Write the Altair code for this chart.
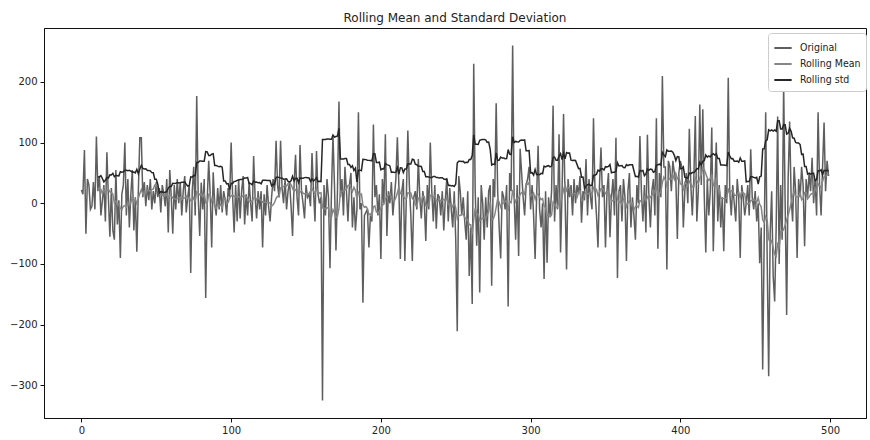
import altair as alt
import pandas as pd

# Original series (index 0..499)
orig = [
    22, 15, 88, -50, 40, 30, -10, -5, 35, -10,
    110, 20, 45, -20, 5, 30, -30, 84, 10, -55,
    25, -45, -60, 55, -35, 5, -90, 15, 30, 100,
    -20, 40, -40, 15, 55, -45, 10, -80, 20, 108,
    108, 10, 35, -5, 30, 5, 40, -10, 20, 0,
    35, 10, 25, -15, 30, 15, -5, 40, -48, 55,
    10, -50, 30, -10, 40, 0, 35, -20, 20, 45,
    -15, 10, 30, -115, 20, 60, -20, 177, 10, -54,
    34, -10, 40, -156, 5, 70, 15, -73, 51, 0,
    -20, 25, -10, 30, -15, 20, 5, -20, 25, 10,
    100, 10, -48, 30, -30, 40, -25, 20, 45, -35,
    15, -20, 35, 0, -30, 78, 10, -25, 20, -10,
    20, -73, 15, -20, 30, -5, -30, 10, 40, 20,
    103, 30, 10, 103, 25, 0, 40, -10, 20, 35,
    -5, -54, 30, 80, 10, -20, 96, 20, 0, -25,
    30, 10, 15, -5, 83, 20, -30, 86, 15, 0,
    10, -325, 30, -20, 40, 10, -107, 20, 112, 30,
    -78, 20, 168, 10, 40, -20, 60, 20, -30, 30,
    50, -40, 10, -45, -10, 150, -10, 0, -164, -20,
    -15, -10, -73, -20, -30, 130, 10, 30, -20, 15,
    -92, 40, 0, 114, -54, 20, 0, 35, -20, 10,
    40, 109, 30, -92, 20, 40, -95, 10, 120, 30,
    -20, -95, 10, 20, -10, 73, 10, -25, 20, 0,
    -62, 30, -10, 100, 20, -30, 30, -42, 15, 10,
    -20, 20, -45, 5, 40, -30, 25, -10, -40, 20,
    -60, -211, 45, 20, -20, 10, -30, -60, 20, -120,
    -40, -166, 230, 20, -70, 10, -147, 30, 0, -60,
    10, -40, 20, 30, -136, 40, 10, 165, 20, -40,
    -91, 20, 10, -10, 30, -170, 50, 20, 260, 10,
    -60, 30, -87, 90, 50, 10, -20, 30, 40, 60,
    -10, 30, -20, -92, 10, 95, -10, -40, 0, -125,
    20, -98, 10, -20, 20, 161, -30, 30, -10, 114,
    -81, 20, 147, 10, -109, 40, 10, 30, -20, 40,
    0, 30, 15, 45, -32, 20, 5, 73, -20, 40,
    10, -10, 140, 20, -20, -73, 30, 92, 10, 30,
    -73, 20, 50, -56, 10, 40, -20, 108, -123, 20,
    30, -30, 40, 10, -95, 20, 50, -40, 10, -20,
    -60, 30, 0, 111, 20, -30, 30, -48, 113, 10,
    -40, 20, 40, -20, 140, -75, 50, 10, 210, 60,
    60, -109, 70, 60, 20, 70, 50, 40, -59, 50,
    70, 60, -40, 20, 50, 0, 123, 30, -20, 40,
    144, -30, 20, 163, 30, 155, 10, -81, 40, -20,
    20, 125, -79, 20, 100, -30, 30, -40, 10, -79,
    30, 0, 207, 20, -20, 30, 0, -30, 40, 10,
    -90, 30, 10, -20, 0, 30, -20, 89, 10, -10,
    20, -30, 0, -99, -40, -274, -60, 150, -90, -285,
    -50, 20, -120, -162, -40, 143, -100, 30, -60, 196,
    0, -184, 40, 135, 10, -30, 60, 20, -90, 40,
    10, 60, 30, -71, 40, 10, 50, 20, 75, 0,
    40, -20, 150, 30, -20, 60, 133, 20, 70, 45,
]

series_names = ["Original", "Rolling Mean", "Rolling std"]
series_colors = ["#5e5e5e", "#858585", "#262626"]
x_ticks = [0, 100, 200, 300, 400, 500]
y_ticks = [-300, -200, -100, 0, 100, 200]
window = 12

df = pd.DataFrame({"idx": list(range(len(orig))), "value": orig})

color_scale = alt.Scale(domain=series_names, range=series_colors)
legend = alt.Legend(
    title=None, orient="none", legendX=724, legendY=5,
    strokeColor="#cccccc", fillColor="white", padding=5, cornerRadius=3,
    symbolType="stroke", symbolSize=300, symbolStrokeWidth=2,
    labelFontSize=10.5, labelFont="DejaVu Sans Condensed, DejaVu Sans",
    labelColor="#222222", rowPadding=-1, labelOffset=7,
)

x_enc = alt.X("idx:Q", scale=alt.Scale(domain=[-25, 524], nice=False, zero=False),
              axis=alt.Axis(values=x_ticks, title=None, grid=False, format="d"))
y_scale = alt.Scale(domain=[-354, 289], nice=False, zero=False)
y_axis = alt.Axis(values=y_ticks, title=None, grid=False, format="d")

base = alt.Chart(df)

orig_line = base.transform_calculate(series="'Original'").mark_line(
    strokeWidth=1.5).encode(
    x=x_enc,
    y=alt.Y("value:Q", scale=y_scale, axis=y_axis),
    color=alt.Color("series:N", scale=color_scale, legend=legend),
)

rolled = base.transform_window(
    rm="mean(value)", rs="stdev(value)", n="count()",
    frame=[-(window - 1), 0], sort=[alt.SortField("idx")],
).transform_filter(f"datum.n == {window}")

mean_line = rolled.transform_calculate(series="'Rolling Mean'").mark_line(
    strokeWidth=1.5).encode(
    x=x_enc,
    y=alt.Y("rm:Q", scale=y_scale, axis=y_axis),
    color=alt.Color("series:N", scale=color_scale, legend=legend),
)

std_line = rolled.transform_calculate(series="'Rolling std'").mark_line(
    strokeWidth=1.5).encode(
    x=x_enc,
    y=alt.Y("rs:Q", scale=y_scale, axis=y_axis),
    color=alt.Color("series:N", scale=color_scale, legend=legend),
)

chart = alt.layer(orig_line, mean_line, std_line).properties(
    width=822, height=390,
    background="white",
    title=alt.TitleParams("Rolling Mean and Standard Deviation", fontSize=12,
                          font="DejaVu Sans", fontWeight="normal",
                          color="#222222", offset=3),
    autosize=alt.AutoSizeParams(type="none"),
    padding={"left": 44, "top": 28, "right": 4, "bottom": 22},
).configure_view(
    stroke="#111111", strokeWidth=1,
).configure_axis(
    domainColor="#111111", tickColor="#111111", tickSize=4,
    labelFontSize=10, labelFont="DejaVu Sans", labelColor="#222222",
    labelPadding=3,
)

chart.save("out.html", embed_options={"renderer": "svg", "actions": False})
